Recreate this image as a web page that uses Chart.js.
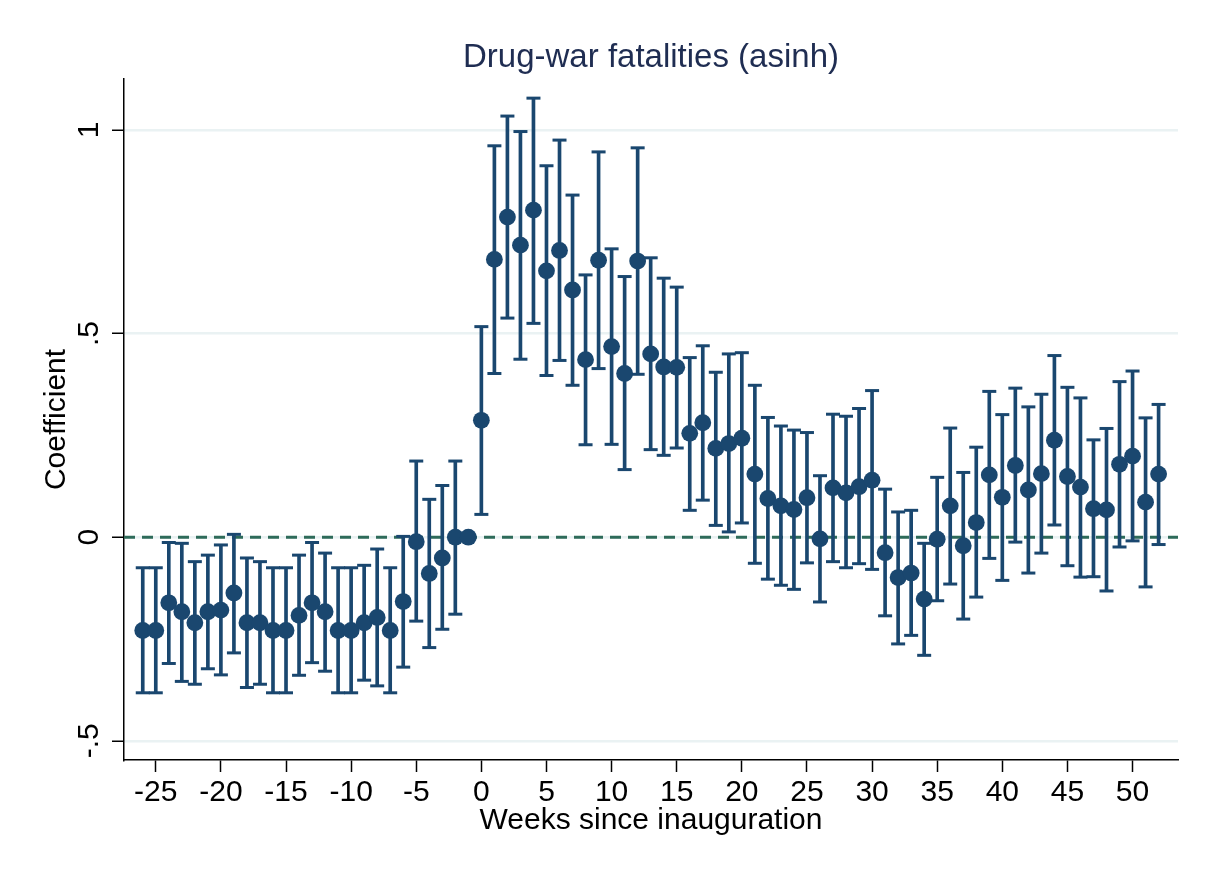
<!DOCTYPE html>
<html>
<head>
<meta charset="utf-8">
<script src="https://cdn.jsdelivr.net/npm/chart.js@4/dist/chart.umd.min.js"></script>
<style>
  html, body { margin: 0; padding: 0; background: #fff; }
  canvas { display: block; }
</style>
</head>
<body>
<canvas id="chart" width="1208" height="876"></canvas>
<script>
// event-study estimates, week -1 is the omitted reference week
const weeks = [];
for (let w = -26; w <= 52; w++) weeks.push(w);

const coef = [
  -0.229, -0.229, -0.161, -0.183, -0.210, -0.183, -0.179, -0.137, -0.210, -0.210,
  -0.229, -0.229, -0.192, -0.161, -0.183, -0.229, -0.229, -0.210, -0.197, -0.229,
  -0.158, -0.011, -0.089, -0.051, 0.000, 0.000,
  0.287, 0.682, 0.786, 0.717, 0.803, 0.654, 0.704, 0.607, 0.436, 0.680,
  0.468, 0.402, 0.678, 0.450, 0.418, 0.417, 0.255, 0.281, 0.218, 0.230,
  0.243, 0.155, 0.095, 0.077, 0.068, 0.097, -0.004, 0.121, 0.109, 0.124,
  0.140, -0.038, -0.099, -0.088, -0.152, -0.005, 0.077, -0.021, 0.036, 0.153,
  0.098, 0.176, 0.116, 0.156, 0.238, 0.149, 0.123, 0.070, 0.067, 0.179,
  0.199, 0.086, 0.155
];

const upper = [
  -0.075, -0.075, -0.013, -0.015, -0.060, -0.044, -0.019, 0.007, -0.051, -0.060,
  -0.075, -0.075, -0.044, -0.013, -0.039, -0.075, -0.075, -0.069, -0.029, -0.075,
  0.002, 0.187, 0.093, 0.127, 0.187, null,
  0.517, 0.961, 1.034, 0.996, 1.078, 0.912, 0.975, 0.840, 0.644, 0.946,
  0.708, 0.640, 0.956, 0.686, 0.636, 0.614, 0.441, 0.470, 0.405, 0.450,
  0.453, 0.373, 0.294, 0.273, 0.263, 0.257, 0.151, 0.302, 0.297, 0.316,
  0.360, 0.118, 0.062, 0.066, -0.015, 0.147, 0.268, 0.159, 0.221, 0.358,
  0.301, 0.366, 0.320, 0.351, 0.446, 0.368, 0.342, 0.239, 0.267, 0.382,
  0.408, 0.293, 0.326
];

const lower = [
  -0.382, -0.382, -0.310, -0.354, -0.361, -0.323, -0.338, -0.284, -0.369, -0.361,
  -0.382, -0.382, -0.339, -0.308, -0.329, -0.382, -0.382, -0.351, -0.365, -0.382,
  -0.319, -0.206, -0.271, -0.226, -0.189, null,
  0.056, 0.402, 0.538, 0.437, 0.525, 0.397, 0.434, 0.373, 0.227, 0.414,
  0.228, 0.166, 0.400, 0.215, 0.201, 0.219, 0.066, 0.091, 0.029, 0.013,
  0.035, -0.064, -0.103, -0.118, -0.128, -0.063, -0.159, -0.060, -0.075, -0.065,
  -0.079, -0.193, -0.262, -0.241, -0.290, -0.156, -0.115, -0.201, -0.147, -0.052,
  -0.106, -0.012, -0.088, -0.039, 0.030, -0.070, -0.098, -0.097, -0.132, -0.024,
  -0.009, -0.122, -0.018
];

const xTicks = [-25, -20, -15, -10, -5, 0, 5, 10, 15, 20, 25, 30, 35, 40, 45, 50];
const yTicks = [-0.5, 0, 0.5, 1];
const yTickLabels = ['-.5', '0', '.5', '1'];

const X_MIN = -27.44, X_MAX = 53.49;
const Y_MIN = -0.547, Y_MAX = 1.125;

const NAVY = '#1a476f';
const FONT = "'Liberation Sans', Arial, Helvetica, sans-serif";

const points = weeks.map((w, i) => ({ x: w, y: coef[i] }));
const bars = [], caps = [];
weeks.forEach((w, i) => {
  if (upper[i] === null) return;
  bars.push({ x: w, y: [lower[i], upper[i]] });
  caps.push({ x: w, y: upper[i] });
  caps.push({ x: w, y: lower[i] });
});

// title, axis titles and the rotated y labels (Stata style)
const textPlugin = {
  id: 'stataText',
  afterDraw(chart) {
    const c = chart.ctx;
    const area = chart.chartArea;
    const ys = chart.scales.y;
    c.save();
    c.fillStyle = '#1f2d52';
    c.font = '33px ' + FONT;
    c.textAlign = 'center';
    c.textBaseline = 'alphabetic';
    c.fillText('Drug-war fatalities (asinh)', (area.left + area.right) / 2, 67);

    c.fillStyle = '#000';
    c.font = '30px ' + FONT;
    c.fillText('Weeks since inauguration', (area.left + area.right) / 2, 829);

    yTicks.forEach((v, i) => {
      const py = ys.getPixelForValue(v);
      c.save();
      c.translate(98, py);
      c.rotate(-Math.PI / 2);
      c.fillText(yTickLabels[i], 0, 0);
      c.restore();
    });

    c.save();
    c.translate(65, (area.top + area.bottom) / 2);
    c.rotate(-Math.PI / 2);
    c.fillText('Coefficient', 0, 0);
    c.restore();
    c.restore();
  }
};

new Chart(document.getElementById('chart'), {
  type: 'scatter',
  data: {
    datasets: [
      {
        label: 'coef',
        data: points,
        pointRadius: 8.4,
        pointBackgroundColor: NAVY,
        pointBorderWidth: 0,
        order: 0
      },
      {
        type: 'bar',
        label: 'ci',
        data: bars,
        barThickness: 3,
        backgroundColor: NAVY,
        borderWidth: 0,
        order: 1
      },
      {
        label: 'caps',
        data: caps,
        pointStyle: 'line',
        pointRadius: 7,
        pointBorderWidth: 3,
        pointBorderColor: NAVY,
        order: 1
      },
      {
        type: 'line',
        label: 'zero',
        data: [{ x: X_MIN, y: 0 }, { x: X_MAX, y: 0 }],
        borderColor: '#2e6b5a',
        borderWidth: 3,
        borderDash: [11, 7],
        pointRadius: 0,
        order: 3
      }
    ]
  },
  options: {
    responsive: false,
    animation: false,
    layout: { padding: { top: 79, right: 30, left: 0, bottom: 0 } },
    plugins: {
      legend: { display: false },
      tooltip: { enabled: false },
      title: { display: false }
    },
    scales: {
      x: {
        type: 'linear',
        min: X_MIN,
        max: X_MAX,
        offset: false,
        afterBuildTicks: s => { s.ticks = xTicks.map(v => ({ value: v })); },
        afterFit: s => { s.height = 116; },
        ticks: {
          color: '#000',
          font: { family: FONT, size: 30 },
          padding: 3,
          maxRotation: 0,
          callback: v => String(v)
        },
        grid: {
          offset: false,
          drawOnChartArea: false,
          drawTicks: true,
          tickLength: 12,
          tickColor: '#000',
          tickWidth: 1.5
        },
        border: { display: true, color: '#000', width: 1.5 }
      },
      y: {
        type: 'linear',
        min: Y_MIN,
        max: Y_MAX,
        afterBuildTicks: s => { s.ticks = yTicks.map(v => ({ value: v })); },
        afterFit: s => { s.width = 124; },
        ticks: { display: false },
        grid: {
          color: '#eaf2f3',
          lineWidth: 2.5,
          drawTicks: true,
          tickLength: 12,
          tickColor: '#000',
          tickWidth: 1.5
        },
        border: { display: true, color: '#000', width: 1.5 }
      }
    }
  },
  plugins: [textPlugin]
});
</script>
</body>
</html>
